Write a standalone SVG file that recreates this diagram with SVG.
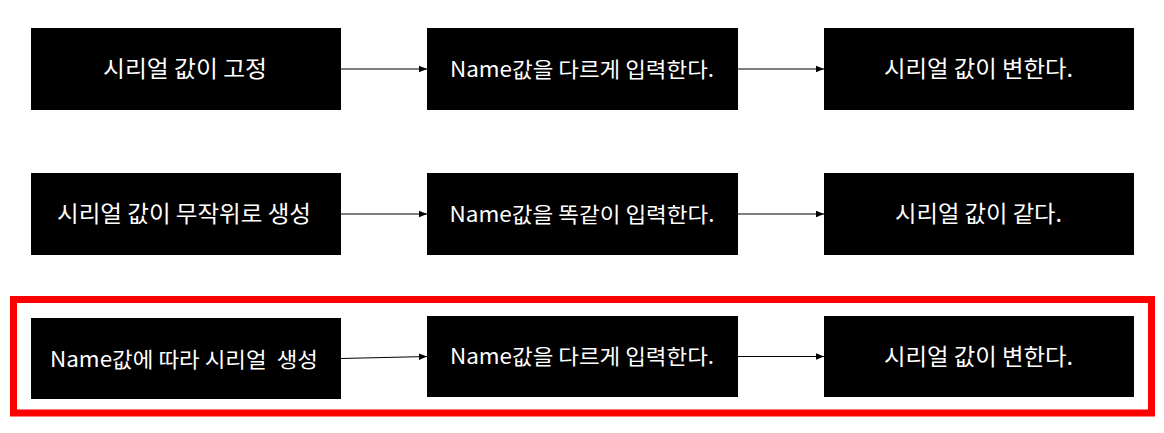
<svg xmlns="http://www.w3.org/2000/svg" width="1164" height="433" viewBox="0 0 1164 433">
<style>
.box{fill:#000}
.t{fill:#fff;font-family:"Noto Sans CJK KR","Noto Sans",sans-serif;font-size:23px;text-anchor:middle;dominant-baseline:central;white-space:pre}
.s{font-size:21px}
.c{stroke:#000;stroke-width:1.2;fill:none;marker-end:url(#ah)}
</style>
<defs>
<marker id="ah" viewBox="0 0 10 10" refX="10" refY="5" markerWidth="8" markerHeight="8" markerUnits="userSpaceOnUse" orient="auto">
<path d="M0,1 L10,5 L0,9 z" fill="#000"/>
</marker>
</defs>
<rect x="13.5" y="299.5" width="1138" height="113.5" fill="none" stroke="#ff0000" stroke-width="7"/>
<g id="connectors">
<line class="c" x1="341" y1="69" x2="427" y2="69"/>
<line class="c" x1="738" y1="69" x2="824" y2="69"/>
<line class="c" x1="341" y1="214" x2="427" y2="214"/>
<line class="c" x1="738" y1="214" x2="824" y2="214"/>
<line class="c" x1="341" y1="358.5" x2="427" y2="356.5"/>
<line class="c" x1="738" y1="356.5" x2="824" y2="356.5"/>
</g>
<g id="n1"><rect class="box" x="31" y="28" width="310" height="82"/><text class="t" x="185" y="67" textLength="164" lengthAdjust="spacingAndGlyphs">시리얼 값이 고정</text></g>
<g id="n2"><rect class="box" x="427" y="28" width="311" height="82"/><text class="t s" x="582" y="67.5" textLength="264" lengthAdjust="spacingAndGlyphs">Name값을 다르게 입력한다.</text></g>
<g id="n3"><rect class="box" x="824" y="28" width="310" height="82"/><text class="t" x="978.5" y="67" textLength="189" lengthAdjust="spacingAndGlyphs">시리얼 값이 변한다.</text></g>
<g id="n4"><rect class="box" x="31" y="173" width="310" height="82"/><text class="t" x="184" y="212" textLength="254" lengthAdjust="spacingAndGlyphs">시리얼 값이 무작위로 생성</text></g>
<g id="n5"><rect class="box" x="427" y="173" width="311" height="82"/><text class="t s" x="582" y="212.5" textLength="265" lengthAdjust="spacingAndGlyphs">Name값을 똑같이 입력한다.</text></g>
<g id="n6"><rect class="box" x="824" y="173" width="310" height="82"/><text class="t" x="978.5" y="212" textLength="167" lengthAdjust="spacingAndGlyphs">시리얼 값이 같다.</text></g>
<g id="n7"><rect class="box" x="31" y="318" width="310" height="81"/><text class="t s" x="184" y="357.5" textLength="268" lengthAdjust="spacingAndGlyphs">Name값에 따라 시리얼  생성</text></g>
<g id="n8"><rect class="box" x="427" y="316" width="311" height="81"/><text class="t s" x="582" y="355" textLength="264" lengthAdjust="spacingAndGlyphs">Name값을 다르게 입력한다.</text></g>
<g id="n9"><rect class="box" x="824" y="316" width="310" height="81"/><text class="t" x="978.5" y="355" textLength="189" lengthAdjust="spacingAndGlyphs">시리얼 값이 변한다.</text></g>
</svg>
